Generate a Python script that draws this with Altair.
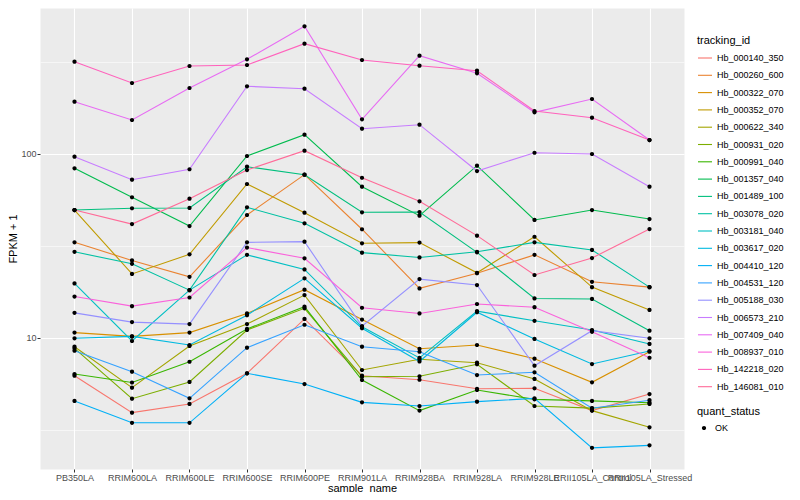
import math
import altair as alt
import pandas as pd

samples = ["PB350LA", "RRIM600LA", "RRIM600LE", "RRIM600SE", "RRIM600PE",
           "RRIM901LA", "RRIM928BA", "RRIM928LA", "RRIM928LE",
           "RRII105LA_Control", "RRII105LA_Stressed"]

hb_000140_350 = [6.24, 3.93, 4.38, 6.43, 12.7, 6.24, 5.93, 5.30, 5.33, 4.03, 4.96]
hb_000260_600 = [33.1, 26.4, 21.5, 46.6, 77.2, 39.0, 18.6, 22.5, 28.3, 20.2, 18.9]
hb_000322_070 = [10.7, 10.2, 10.7, 13.6, 18.3, 12.6, 8.74, 9.16, 7.72, 5.74, 8.42]
hb_000352_070 = [49.6, 22.3, 28.5, 68.7, 48.0, 32.7, 33.0, 22.6, 35.5, 18.9, 14.2]
hb_000622_340 = [8.97, 5.37, 9.05, 11.9, 17.1, 6.70, 7.66, 7.34, 5.99, 4.03, 3.27]
hb_000931_020 = [8.79, 4.68, 5.77, 11.05, 14.5, 6.16, 6.19, 7.20, 4.27, 4.16, 4.38]
hb_000991_040 = [6.37, 5.73, 7.43, 11.2, 14.8, 5.91, 4.03, 5.22, 4.64, 4.55, 4.45]
hb_001357_040 = [83.6, 58.2, 40.6, 97.5, 127.3, 66.4, 46.2, 86.4, 43.8, 49.6, 44.3]
hb_001489_100 = [49.6, 50.7, 50.9, 85.3, 77.2, 48.2, 48.4, 29.2, 16.4, 16.3, 10.96]
hb_003078_020 = [29.4, 25.3, 18.2, 51.3, 42.0, 29.1, 27.4, 29.4, 33.1, 30.1, 18.9]
hb_003181_040 = [19.8, 9.63, 18.2, 28.3, 23.6, 11.5, 7.79, 14.0, 12.4, 11.05, 9.28]
hb_003617_020 = [9.96, 10.2, 9.16, 13.3, 21.1, 11.3, 7.45, 13.8, 9.88, 7.22, 8.50]
hb_004410_120 = [4.55, 3.46, 3.46, 6.43, 5.62, 4.47, 4.27, 4.51, 4.70, 2.53, 2.61]
hb_004531_120 = [8.53, 6.56, 4.70, 8.86, 11.8, 8.97, 8.42, 6.29, 6.51, 4.15, 4.59]
hb_005188_030 = [13.7, 12.2, 11.9, 33.1, 33.4, 11.6, 20.9, 19.4, 7.07, 10.96, 9.96]
hb_006573_210 = [96.7, 72.5, 82.6, 233.3, 226.4, 137.2, 144.3, 80.8, 101.6, 100.0, 66.4]
hb_007409_040 = [192.4, 153.0, 228.4, 327.1, 494.3, 154.4, 342.1, 274.5, 168.5, 199.0, 119.1]
hb_008937_010 = [16.8, 14.9, 16.6, 31.0, 27.1, 14.6, 13.6, 15.3, 14.7, 10.8, 7.81]
hb_142218_020 = [317.4, 243.1, 300.8, 304.6, 397.6, 324.3, 301.9, 283.6, 171.3, 157.5, 119.1]
hb_146081_010 = [49.6, 41.6, 57.2, 81.8, 104.2, 74.3, 55.3, 36.0, 22.0, 27.2, 39.1]

series = {
    "Hb_000140_350": hb_000140_350, "Hb_000260_600": hb_000260_600,
    "Hb_000322_070": hb_000322_070, "Hb_000352_070": hb_000352_070,
    "Hb_000622_340": hb_000622_340, "Hb_000931_020": hb_000931_020,
    "Hb_000991_040": hb_000991_040, "Hb_001357_040": hb_001357_040,
    "Hb_001489_100": hb_001489_100, "Hb_003078_020": hb_003078_020,
    "Hb_003181_040": hb_003181_040, "Hb_003617_020": hb_003617_020,
    "Hb_004410_120": hb_004410_120, "Hb_004531_120": hb_004531_120,
    "Hb_005188_030": hb_005188_030, "Hb_006573_210": hb_006573_210,
    "Hb_007409_040": hb_007409_040, "Hb_008937_010": hb_008937_010,
    "Hb_142218_020": hb_142218_020, "Hb_146081_010": hb_146081_010,
}
ids = list(series.keys())


def hcl_hex(h, c=100.0, l=65.0):
    hr = math.radians(h)
    u, v = c * math.cos(hr), c * math.sin(hr)
    Xn, Yn, Zn = 95.047, 100.0, 108.883
    den = Xn + 15 * Yn + 3 * Zn
    un, vn = 4 * Xn / den, 9 * Yn / den
    Y = Yn * ((l + 16) / 116) ** 3
    up, vp = u / (13 * l) + un, v / (13 * l) + vn
    X = Y * 9 * up / (4 * vp)
    Z = Y * (12 - 3 * up - 20 * vp) / (4 * vp)
    X, Y, Z = X / 100, Y / 100, Z / 100
    rgb = [3.240479 * X - 1.537150 * Y - 0.498535 * Z,
           -0.969256 * X + 1.875992 * Y + 0.041556 * Z,
           0.055648 * X - 0.204043 * Y + 1.057311 * Z]
    out = []
    for t in rgb:
        t = 12.92 * t if t <= 0.0031308 else 1.055 * (max(t, 0) ** (1 / 2.4)) - 0.055
        t = min(max(t, 0.0), 1.0)
        out.append(int(round(t * 255)))
    return "#%02X%02X%02X" % tuple(out)


colors = [hcl_hex(15 + 360.0 / len(ids) * i) for i in range(len(ids))]

rows = []
for tid, vals in series.items():
    for s, v in zip(samples, vals):
        rows.append({"tracking_id": tid, "sample_name": s, "FPKM": v, "quant_status": "OK"})
df = pd.DataFrame(rows)

FONT = "Liberation Sans"
major = "datum.value == 10 || datum.value == 100"
dot = "M0,-0.3A0.3,0.3,0,1,1,0,0.3A0.3,0.3,0,1,1,0,-0.3Z"

base = alt.Chart(df).encode(
    x=alt.X("sample_name:N", sort=samples, title="sample_name",
            scale=alt.Scale(type="point", padding=0.6),
            axis=alt.Axis(labelAngle=0, labelOverlap=False, labelFontSize=9,
                          labelColor="#4D4D4D", tickColor="#333333", tickSize=3,
                          domain=False, grid=True, gridColor="white", gridWidth=1.1,
                          labelPadding=1, titleFontSize=11, titleColor="black",
                          titleFontWeight="normal", titlePadding=0)),
    y=alt.Y("FPKM:Q", title="FPKM + 1",
            scale=alt.Scale(type="log", domain=[1.941, 621.5], nice=False),
            axis=alt.Axis(values=[3.1623, 10, 31.623, 100, 316.23],
                          labelExpr="(" + major + ") ? datum.label : ''",
                          labelFontSize=9, labelColor="#4D4D4D", tickColor="#333333",
                          tickSize=3, labelPadding=1, domain=False, grid=True,
                          gridColor="white",
                          gridWidth={"condition": {"test": major, "value": 1.1}, "value": 0.55},
                          tickOpacity={"condition": {"test": major, "value": 1}, "value": 0},
                          titleFontSize=11, titleColor="black", titleFontWeight="normal",
                          titleX=-27, titleBaseline="middle")),
)

lines = base.mark_line(strokeWidth=1.1).encode(
    color=alt.Color("tracking_id:N", scale=alt.Scale(domain=ids, range=colors),
                    legend=alt.Legend(orient="none", legendX=657, legendY=27,
                                      direction="vertical", symbolType="stroke",
                                      symbolSize=196, symbolStrokeWidth=1.1,
                                      labelFontSize=9, titleFontSize=11,
                                      labelColor="black", titleColor="black",
                                      titleFontWeight="normal", rowPadding=4.3,
                                      labelOffset=4, titlePadding=4, labelLimit=200)),
    detail="tracking_id:N",
)

points = base.mark_point(filled=True, size=196, opacity=1, color="black").encode(
    shape=alt.Shape("quant_status:N", scale=alt.Scale(domain=["OK"], range=[dot]),
                    legend=alt.Legend(orient="none", legendX=657, legendY=398,
                                      direction="vertical", symbolSize=196,
                                      symbolFillColor="black", symbolStrokeWidth=0,
                                      labelFontSize=9, titleFontSize=11,
                                      labelColor="black", titleColor="black",
                                      titleFontWeight="normal", labelOffset=4,
                                      titlePadding=4)),
)

chart = alt.layer(lines, points).properties(
    width=644, height=461,
    autosize=alt.AutoSizeParams(type="none"),
    padding={"left": 32, "top": 0, "right": 108, "bottom": 23},
).configure(font=FONT).configure_view(fill="#EBEBEB", stroke="transparent")

chart.save("out.html", embed_options={"renderer": "svg", "actions": False})
